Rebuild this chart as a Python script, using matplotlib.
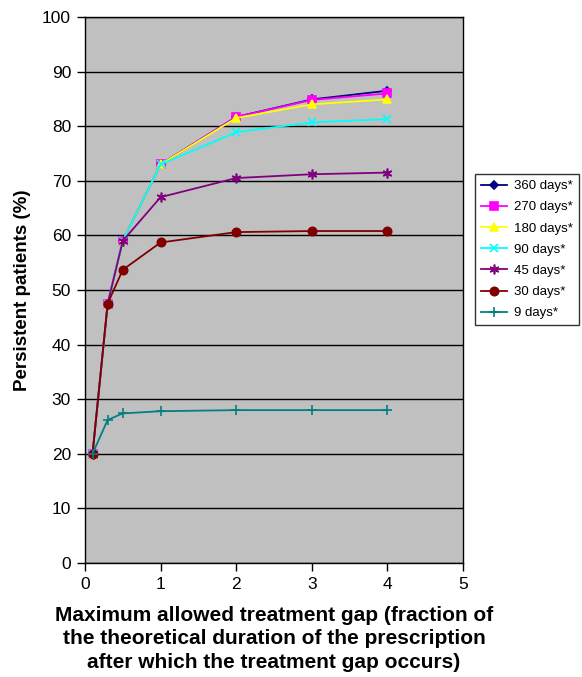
import matplotlib.pyplot as plt

plt.rcParams['font.family'] = ['Liberation Sans', 'DejaVu Sans']

gap = [0.1, 0.3, 0.5, 1, 2, 3, 4]
labels = ['360 days*', '270 days*', '180 days*', '90 days*', '45 days*', '30 days*', '9 days*']
d360 = [20, 47.5, 59, 73, 81.7, 84.9, 86.5]
d270 = [20, 47.5, 59, 73, 81.7, 84.8, 86.0]
d180 = [20, 47.5, 59, 73, 81.5, 84.0, 84.9]
d90 = [20, 47.5, 59, 73, 78.9, 80.7, 81.3]
d45 = [20, 47.5, 59, 67, 70.5, 71.2, 71.5]
d30 = [20, 47.5, 53.7, 58.7, 60.6, 60.8, 60.8]
d9 = [20, 26.2, 27.4, 27.8, 28, 28, 28]

series = [d360, d270, d180, d90, d45, d30, d9]
colors = ['#000080', '#FF00FF', '#FFFF00', '#00FFFF', '#800080', '#800000', '#008080']
markers = ['D', 's', '^', 'x', (6, 2, 0), 'o', '+']
msizes = [4, 6, 6, 6, 7, 6, 7]

fig = plt.figure(figsize=(5.82, 6.77), dpi=100)
ax = fig.add_axes([0.146, 0.1684, 0.6495, 0.8065])
ax.set_facecolor('#C0C0C0')

for vals, lab, c, m, ms in zip(series, labels, colors, markers, msizes):
    ax.plot(gap, vals, color=c, marker=m, markersize=ms, linewidth=1.3,
            markeredgewidth=1.2, label=lab)

ax.set_xlim(0, 5)
ax.set_ylim(0, 100)
ax.set_xticks(range(0, 6))
ax.set_yticks(range(0, 101, 10))
ax.yaxis.grid(True, color='black', linewidth=1)
ax.set_axisbelow(True)
ax.tick_params(direction='out', length=6, labelsize=12.5, width=1, pad=4)
for s in ax.spines.values():
    s.set_linewidth(1)

ax.set_ylabel('Persistent patients (%)', fontsize=13.5, fontweight='bold', labelpad=8)
ax.set_xlabel('Maximum allowed treatment gap (fraction of\nthe theoretical duration of the prescription\nafter which the treatment gap occurs)',
              fontsize=15, fontweight='bold', labelpad=10, linespacing=1.3)

leg = fig.legend(loc='upper left', bbox_to_anchor=(0.816, 0.743), fontsize=9.5,
                 frameon=True, fancybox=False, edgecolor='black', handlelength=2.0,
                 borderpad=0.45, labelspacing=0.68, handletextpad=0.5, borderaxespad=0)
leg.get_frame().set_linewidth(1)

fig.savefig('out.png', dpi=100)
